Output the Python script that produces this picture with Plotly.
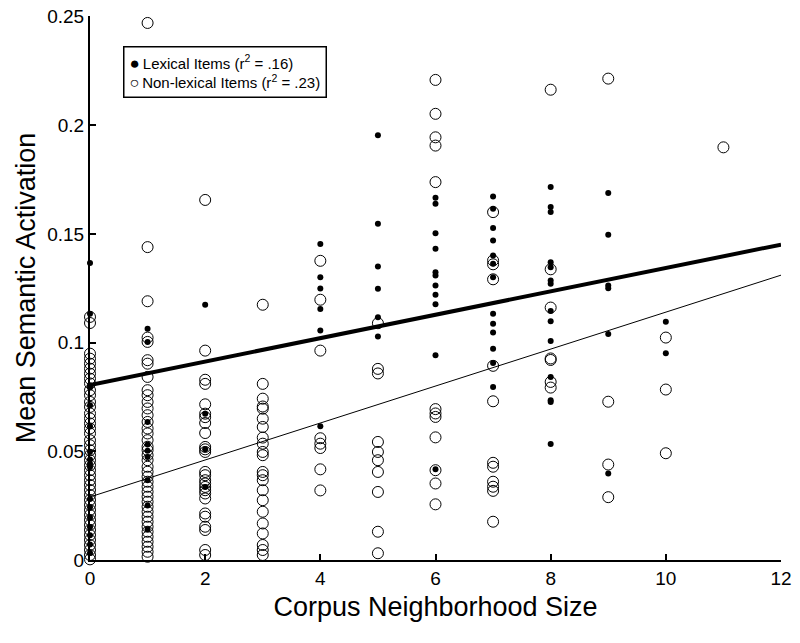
import plotly.graph_objects as go

# mean semantic activation per item, grouped by corpus neighborhood size
lexical_by_size = {
    0: [0.1366, 0.1133, 0.0804, 0.0793, 0.0712, 0.0615, 0.0498, 0.0462, 0.0443, 0.0428,
        0.0281, 0.0243, 0.0196, 0.0152, 0.0114, 0.0071, 0.0032],
    1: [0.1064, 0.1003, 0.0635, 0.0531, 0.0502, 0.0474, 0.0367, 0.0251, 0.0142],
    2: [0.1174, 0.0673, 0.0509, 0.0336],
    4: [0.1453, 0.1300, 0.1249, 0.1154, 0.1055, 0.0615],
    5: [0.1953, 0.1546, 0.1350, 0.1248, 0.1116, 0.1028],
    6: [0.1666, 0.1638, 0.1503, 0.1431, 0.1324, 0.1309, 0.1263, 0.1220, 0.1176, 0.0942, 0.0417],
    7: [0.1672, 0.1616, 0.1527, 0.1469, 0.1401, 0.1363, 0.1301, 0.1133, 0.1087, 0.1046,
        0.0972, 0.0906, 0.0796],
    8: [0.1715, 0.1623, 0.1600, 0.1370, 0.1347, 0.1286, 0.1270, 0.1145, 0.1098, 0.1007,
        0.0842, 0.0735, 0.0727, 0.0533],
    9: [0.1688, 0.1496, 0.1263, 0.1250, 0.1039, 0.0398],
    10: [0.1096, 0.0951],
}

nonlexical_by_size = {
    0: [0.1118, 0.1090, 0.0949, 0.0926, 0.0903, 0.0880, 0.0857, 0.0834, 0.0812, 0.0781,
        0.0758, 0.0727, 0.0704, 0.0674, 0.0651, 0.0628, 0.0605, 0.0582, 0.0551, 0.0528,
        0.0505, 0.0482, 0.0459, 0.0436, 0.0413, 0.0390, 0.0367, 0.0345, 0.0322, 0.0299,
        0.0276, 0.0253, 0.0230, 0.0207, 0.0184, 0.0161, 0.0138, 0.0115, 0.0092, 0.0069,
        0.0046, 0.0023, 0.0003],
    1: [0.2470, 0.1439, 0.1190, 0.1023, 0.1003, 0.0919, 0.0903, 0.0842, 0.0781, 0.0758,
        0.0727, 0.0697, 0.0666, 0.0635, 0.0605, 0.0582, 0.0551, 0.0521, 0.0505, 0.0482,
        0.0459, 0.0429, 0.0406, 0.0383, 0.0360, 0.0337, 0.0314, 0.0291, 0.0268, 0.0245,
        0.0222, 0.0199, 0.0176, 0.0153, 0.0130, 0.0107, 0.0084, 0.0061, 0.0038, 0.0015],
    2: [0.1656, 0.0963, 0.0829, 0.0810, 0.0716, 0.0673, 0.0657, 0.0630, 0.0584, 0.0520,
        0.0509, 0.0497, 0.0405, 0.0390, 0.0367, 0.0352, 0.0336, 0.0321, 0.0306, 0.0283,
        0.0214, 0.0199, 0.0153, 0.0138, 0.0046, 0.0023],
    3: [0.1174, 0.0810, 0.0742, 0.0706, 0.0696, 0.0650, 0.0612, 0.0563, 0.0535, 0.0497,
        0.0482, 0.0405, 0.0390, 0.0367, 0.0321, 0.0275, 0.0222, 0.0168, 0.0122, 0.0069,
        0.0046, 0.0023],
    4: [0.1376, 0.1197, 0.0963, 0.0560, 0.0535, 0.0515, 0.0417, 0.0320],
    5: [0.1089, 0.0879, 0.0858, 0.0543, 0.0497, 0.0459, 0.0405, 0.0313, 0.0130, 0.0031],
    6: [0.2208, 0.2052, 0.1944, 0.1906, 0.1738, 0.0694, 0.0674, 0.0658, 0.0564, 0.0413,
        0.0352, 0.0256],
    7: [0.1600, 0.1378, 0.1360, 0.1291, 0.0893, 0.0730, 0.0447, 0.0429, 0.0360, 0.0337,
        0.0318, 0.0176],
    8: [0.2163, 0.1337, 0.1161, 0.0927, 0.0920, 0.0819, 0.0793],
    9: [0.2214, 0.0728, 0.0439, 0.0289],
    10: [0.1023, 0.0784, 0.0491],
    11: [0.1898],
}

# regression fits (intercept, slope)
lexical_fit = (0.0805, 0.00538)
nonlexical_fit = (0.0290, 0.00850)
fit_x = [0, 12]

x_ticks = [0, 2, 4, 6, 8, 10, 12]
y_ticks = [0, 0.05, 0.1, 0.15, 0.2, 0.25]

lex_label = 'Lexical Items (r<sup>2</sup> = .16)'
non_label = 'Non-lexical Items (r<sup>2</sup> = .23)'


def flatten(groups):
    xs, ys = [], []
    for size, vals in groups.items():
        xs += [size] * len(vals)
        ys += vals
    return xs, ys


lex_x, lex_y = flatten(lexical_by_size)
non_x, non_y = flatten(nonlexical_by_size)

fig = go.Figure()

fig.add_trace(go.Scatter(
    x=non_x, y=non_y, mode='markers', name=non_label, showlegend=False,
    marker=dict(symbol='circle-open', size=11, color='black', line=dict(width=1)),
    cliponaxis=False
))
fig.add_trace(go.Scatter(
    x=lex_x, y=lex_y, mode='markers', name=lex_label, showlegend=False,
    marker=dict(symbol='circle', size=6, color='black'),
    cliponaxis=False
))

for (b, m), w in [(lexical_fit, 4), (nonlexical_fit, 1)]:
    fig.add_trace(go.Scatter(
        x=fit_x, y=[b + m * xv for xv in fit_x], mode='lines',
        line=dict(color='black', width=w), showlegend=False, hoverinfo='skip'
    ))

# boxed key in the upper left, like the original figure
fig.add_annotation(
    xref='paper', yref='paper', x=0.048, y=0.945, xanchor='left', yanchor='top',
    text='<span style="font-size:17px">\u25cf</span>\u2009' + lex_label +
         '<br><span style="font-size:16px">\u25cb</span>\u2009' + non_label,
    align='left', showarrow=False, font=dict(size=15),
    bordercolor='black', borderwidth=1.5, borderpad=5, bgcolor='white'
)

font = 'Liberation Sans, Arial, sans-serif'
fig.update_layout(
    width=792, height=635,
    plot_bgcolor='white', paper_bgcolor='white',
    font=dict(family=font, color='black', size=19),
    margin=dict(l=82, r=19, t=8, b=83),
    showlegend=False,
    xaxis=dict(
        range=[0, 12], tickvals=x_ticks, showgrid=False, zeroline=False,
        showline=True, linecolor='black', linewidth=2, automargin=False,
        ticks='inside', ticklen=6, tickwidth=1.5, tickcolor='black',
        ticklabeloverflow='allow',
        title=dict(text='Corpus Neighborhood Size', font=dict(size=27), standoff=9)
    ),
    yaxis=dict(
        range=[0, 0.2502], tickvals=y_ticks, showgrid=False, zeroline=False,
        showline=True, linecolor='black', linewidth=2, automargin=False,
        ticks='inside', ticklen=6, tickwidth=1.5, tickcolor='black',
        ticklabeloverflow='allow',
        title=dict(text='Mean Semantic Activation', font=dict(size=27), standoff=4)
    ),
)

fig.write_html("out.html")
